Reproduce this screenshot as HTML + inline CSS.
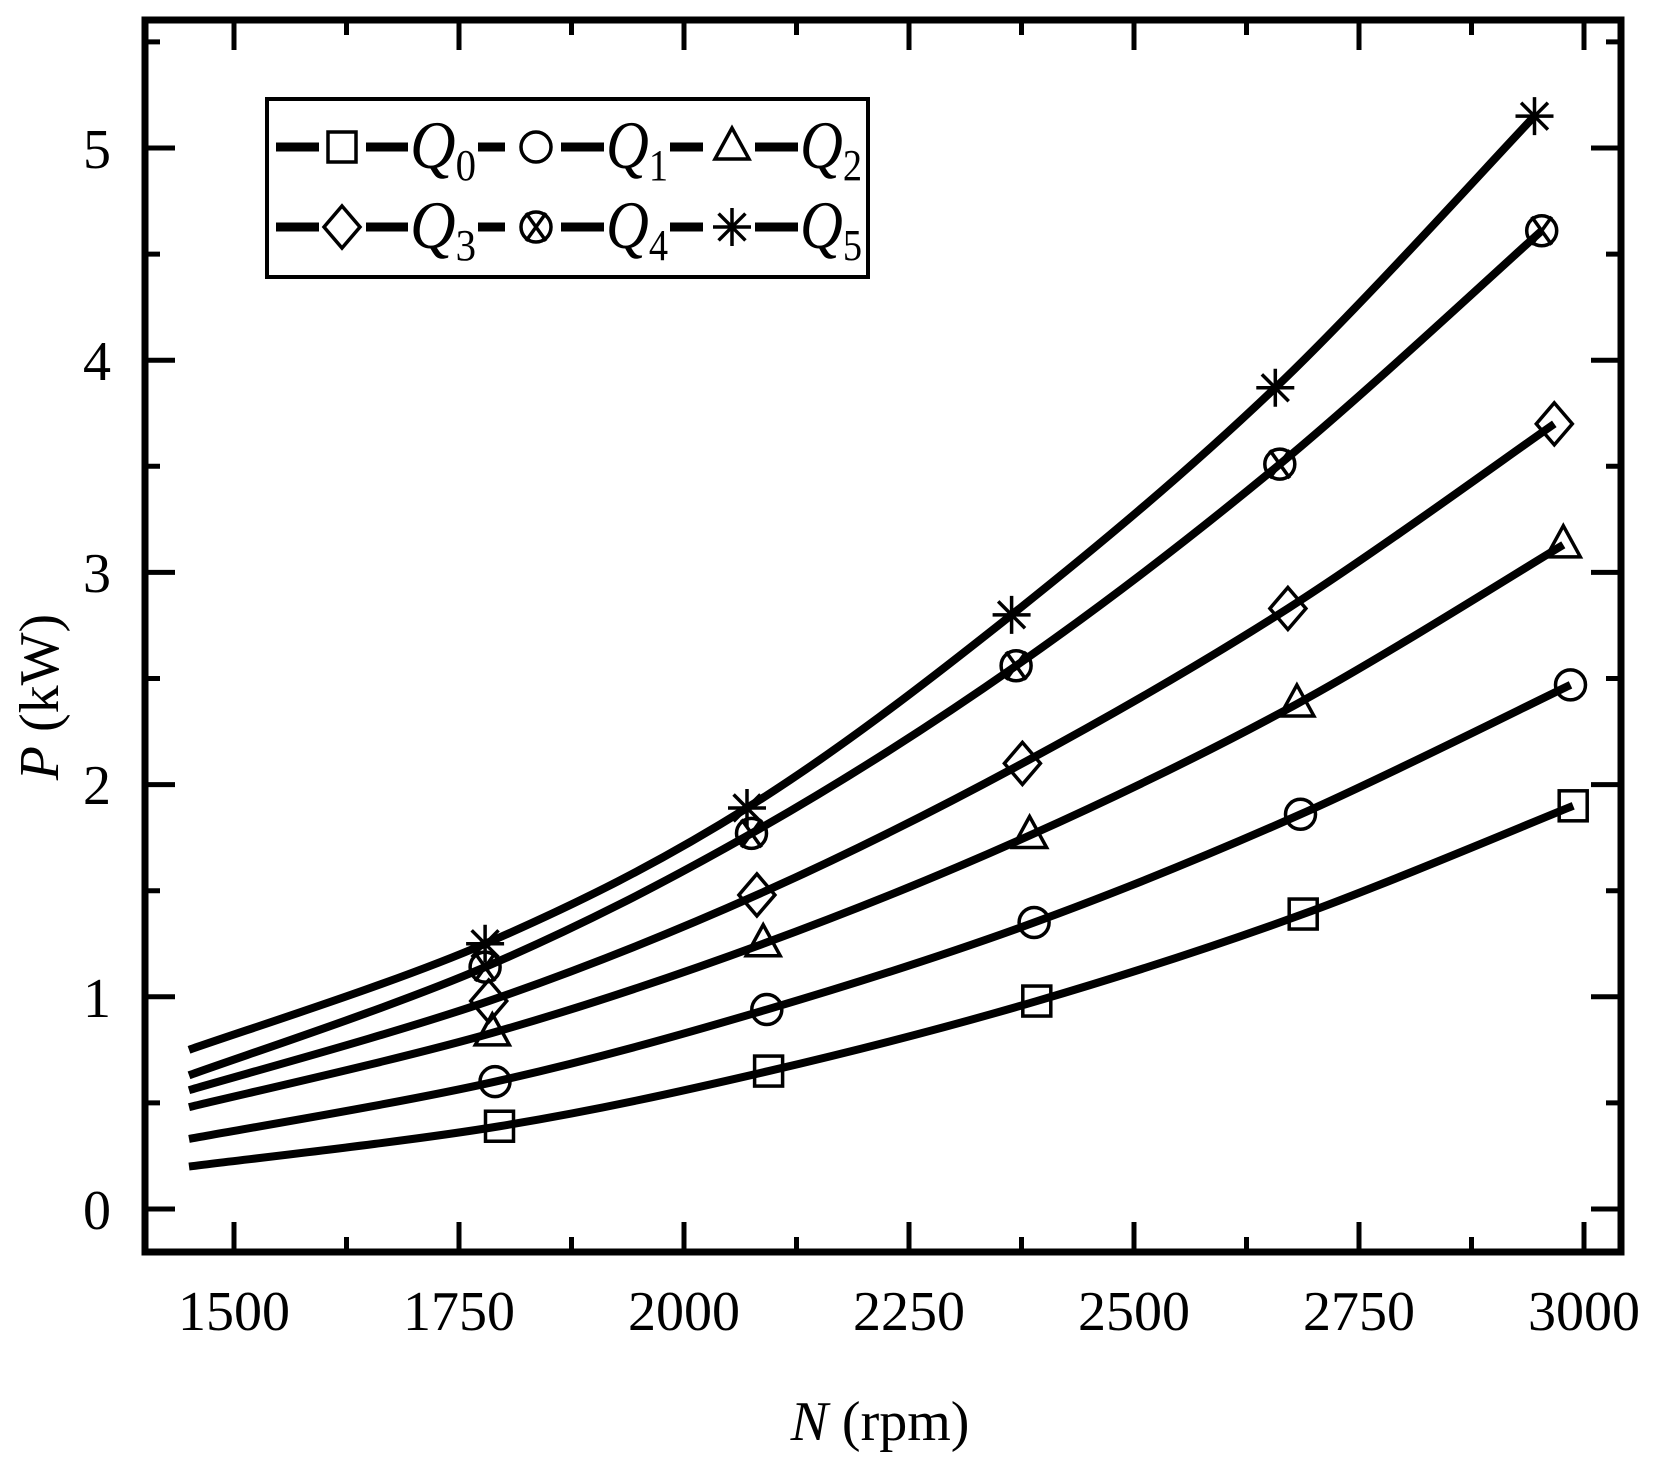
<!DOCTYPE html>
<html><head><meta charset="utf-8"><style>
html,body{margin:0;padding:0;background:#fff}
svg{display:block}
text{font-family:"Liberation Serif",serif;fill:#000}
</style></head><body>
<svg id="s" width="1656" height="1457" viewBox="0 0 1656 1457" xmlns="http://www.w3.org/2000/svg">
<rect x="0" y="0" width="1656" height="1457" fill="#fff"/>
<g id="ticks"></g>
<g id="curves"></g>
<rect x="145" y="20" width="1476" height="1232" fill="none" stroke="#000" stroke-width="7"/>
<g font-size="56" text-anchor="middle">
<text x="234" y="1330">1500</text><text x="459" y="1330">1750</text><text x="684" y="1330">2000</text>
<text x="909" y="1330">2250</text><text x="1134" y="1330">2500</text><text x="1359" y="1330">2750</text>
<text x="1584" y="1330">3000</text>
</g>
<g font-size="56" text-anchor="middle">
<text x="97" y="1229">0</text><text x="97" y="1017">1</text><text x="97" y="804">2</text>
<text x="97" y="592">3</text><text x="97" y="380">4</text><text x="97" y="168">5</text>
</g>
<text x="880" y="1440" font-size="56" text-anchor="middle"><tspan font-style="italic">N</tspan> (rpm)</text>
<text transform="translate(58,697) rotate(-90)" font-size="56" text-anchor="middle"><tspan font-style="italic">P</tspan> (kW)</text>
<rect x="267" y="99" width="601" height="178" fill="#fff" stroke="#000" stroke-width="4"/>
<g id="leg"></g>
<g font-size="68" font-style="italic">
<text x="410" y="168" textLength="66" lengthAdjust="spacingAndGlyphs">Q<tspan font-style="normal" font-size="44" dy="12">0</tspan></text>
<text x="606" y="168" textLength="62" lengthAdjust="spacingAndGlyphs">Q<tspan font-style="normal" font-size="44" dy="12">1</tspan></text>
<text x="800" y="168" textLength="62" lengthAdjust="spacingAndGlyphs">Q<tspan font-style="normal" font-size="44" dy="12">2</tspan></text>
<text x="410" y="248" textLength="66" lengthAdjust="spacingAndGlyphs">Q<tspan font-style="normal" font-size="44" dy="12">3</tspan></text>
<text x="606" y="248" textLength="62" lengthAdjust="spacingAndGlyphs">Q<tspan font-style="normal" font-size="44" dy="12">4</tspan></text>
<text x="800" y="248" textLength="62" lengthAdjust="spacingAndGlyphs">Q<tspan font-style="normal" font-size="44" dy="12">5</tspan></text>
</g>
</svg>
<script>
var NS="http://www.w3.org/2000/svg";
function X(n){return 234+(n-1500)*0.9}
function Y(p){return 1209-212.2*p}
function el(t,a,par){var e=document.createElementNS(NS,t);for(var k in a)e.setAttribute(k,a[k]);par.appendChild(e);return e}
var tk=document.getElementById('ticks');
var d="";
for(var n=1500;n<=3000;n+=125){var L=(n%250==0)?30:15;var x=X(n);d+="M"+x+" 1252V"+(1252-L)+"M"+x+" 20V"+(20+L);}
for(var i=0;i<=11;i++){var p=i*0.5;var L=(i%2==0)?30:15;var y=Y(p);d+="M145 "+y+"H"+(145+L)+"M1621 "+y+"H"+(1621-L);}
el('path',{d:d,stroke:'#000','stroke-width':5,fill:'none'},tk);
var data=[
 {s:0.2,m:[[1795,0.39],[2094,0.65],[2392,0.98],[2688,1.39],[2988,1.9]],k:'sq'},
 {s:0.33,m:[[1790,0.6],[2092,0.94],[2389,1.35],[2685,1.86],[2985,2.47]],k:'ci'},
 {s:0.48,m:[[1787,0.83],[2088,1.25],[2384,1.76],[2681,2.38],[2977,3.13]],k:'tr'},
 {s:0.56,m:[[1783,0.98],[2081,1.48],[2376,2.1],[2671,2.83],[2967,3.7]],k:'di'},
 {s:0.63,m:[[1779,1.14],[2075,1.77],[2369,2.56],[2662,3.51],[2953,4.61]],k:'cx'},
 {s:0.75,m:[[1779,1.25],[2070,1.89],[2364,2.8],[2657,3.87],[2945,5.15]],k:'st'}];
var cg=document.getElementById('curves');
function marker(k,x,y,g){
 var a={fill:'none',stroke:'#000','stroke-width':3.5};
 if(k=='sq'){a.x=x-14;a.y=y-15;a.width=28;a.height=30;el('rect',a,g);}
 else if(k=='ci'){a.cx=x;a.cy=y;a.r=15;el('circle',a,g);}
 else if(k=='tr'){a.points=(x)+","+(y-19)+" "+(x-17)+","+(y+12)+" "+(x+17)+","+(y+12);el('polygon',a,g);}
 else if(k=='di'){a.points=(x)+","+(y-21)+" "+(x+18)+","+y+" "+x+","+(y+21)+" "+(x-18)+","+y;el('polygon',a,g);}
 else if(k=='cx'){a.cx=x;a.cy=y;a.r=15;el('circle',a,g);el('path',{d:"M"+(x-10)+" "+(y-14)+"L"+(x+10)+" "+(y+14)+"M"+(x+10)+" "+(y-14)+"L"+(x-10)+" "+(y+14),stroke:'#000','stroke-width':3.5},g);}
 else if(k=='st'){var s="";for(var j=0;j<4;j++){var an=j*Math.PI/4;var dx=19*Math.cos(an),dy=19*Math.sin(an);s+="M"+(x-dx)+" "+(y-dy)+"L"+(x+dx)+" "+(y+dy);}el('path',{d:s,stroke:'#000','stroke-width':3.5},g);}
}
data.forEach(function(c){
 var pts=[[X(1450),Y(c.s)]].concat(c.m.map(function(q){return [X(q[0]),Y(q[1])]}));
 var d="M"+pts[0][0]+" "+pts[0][1];
 for(var i=0;i<pts.length-1;i++){
  var p0=pts[i>0?i-1:i],p1=pts[i],p2=pts[i+1],p3=pts[i+2<pts.length?i+2:i+1];
  var c1=[p1[0]+(p2[0]-p0[0])/6,p1[1]+(p2[1]-p0[1])/6],c2=[p2[0]-(p3[0]-p1[0])/6,p2[1]-(p3[1]-p1[1])/6];
  d+="C"+c1+" "+c2+" "+p2;
 }
 el('path',{d:d,stroke:'#000','stroke-width':8,fill:'none','stroke-linecap':'butt'},cg);
 c.m.forEach(function(q){marker(c.k,X(q[0]),Y(q[1]),cg)});
});
var lg=document.getElementById('leg');
var rows=[[147,['sq','ci','tr']],[227,['di','cx','st']]];
var xs=[[276,319,342,366,408],[478,505,536,561,604],[670,703,732,755,798]];
rows.forEach(function(r){
 r[1].forEach(function(k,i){var q=xs[i];
  el('path',{d:"M"+q[0]+" "+r[0]+"H"+q[1]+"M"+q[3]+" "+r[0]+"H"+q[4],stroke:'#000','stroke-width':9},lg);
  marker(k,q[2],r[0],lg);
 });
});
</script>
</body></html>
